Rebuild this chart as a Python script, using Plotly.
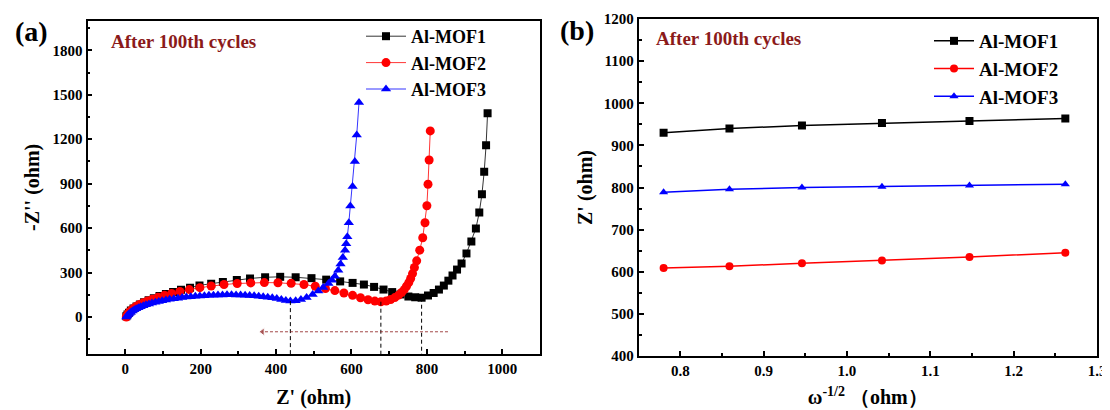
import plotly.graph_objects as go

# ---------------- Panel (a): Nyquist data ----------------
mof1_x = [3, 6, 10, 15, 22, 30, 39, 50, 62, 76, 91, 108, 127, 148, 172, 197, 228, 259, 296, 331,
          371, 411, 452, 494, 533, 570, 603, 633, 660, 685, 708, 730, 751, 769, 786, 803, 818, 832, 845, 857,
          868, 880, 892, 905, 918, 930, 939, 946, 952, 957, 961]
mof1_y = [4, 16, 29, 43, 57, 71, 85, 99, 113, 127, 141, 155, 169, 183, 198, 213, 225, 236, 250, 260,
          268, 271, 268, 262, 252, 240, 230, 219, 203, 185, 168, 152, 138, 133, 130, 145, 162, 185, 212, 245,
          280, 320, 361, 429, 510, 598, 706, 828, 981, 1159, 1376]

mof2_x = [3, 5, 8, 12, 17, 23, 30, 38, 48, 59, 72, 87, 104, 123, 145, 170, 198, 228, 262, 297,
          333, 369, 405, 440, 474, 504, 531, 556, 580, 603, 624, 644, 662, 678, 692, 704, 715, 725, 733, 740,
          746, 752, 757, 762, 767, 773, 781, 789, 795, 800, 803, 806, 809]
mof2_y = [0, 12, 24, 36, 48, 60, 72, 84, 96, 108, 120, 133, 146, 159, 172, 185, 198, 209, 219, 226,
          230, 232, 231, 227, 219, 207, 192, 178, 162, 146, 130, 116, 107, 103, 108, 118, 131, 147, 165, 185,
          207, 232, 260, 293, 334, 379, 451, 535, 636, 751, 896, 1060, 1256]

mof3_x = [3, 5, 8, 11, 15, 19, 24, 29, 35, 41, 48, 55, 63, 71, 80, 89, 98, 108, 118, 129,
          140, 151, 162, 174, 186, 198, 210, 222, 234, 246, 258, 270, 282, 294, 306, 318, 330, 342, 354, 366,
          378, 390, 402, 414, 426, 438, 452, 466, 481, 497, 512, 525, 539, 548, 556, 565, 571, 577, 583, 586,
          589, 593, 597, 603, 609, 614, 620]
mof3_y = [0, 8, 16, 24, 32, 40, 48, 55, 62, 69, 76, 82, 88, 94, 100, 105, 110, 115, 119, 123,
          127, 131, 134, 137, 140, 142, 144, 146, 147, 148, 149, 150, 150, 149, 148, 147, 145, 143, 140, 137,
          133, 129, 124, 118, 112, 107, 110, 118, 131, 152, 176, 199, 226, 248, 275, 316, 357, 402, 451, 495,
          541, 636, 749, 880, 1049, 1229, 1448]

# arrow (Rct shift) along Z' axis
arrow_x = [856, 364]
arrow_y = [-100, -100]

# ---------------- Panel (b): Z' vs omega^-1/2 ----------------
b_x = [0.780, 0.859, 0.946, 1.042, 1.147, 1.262]
b_mof1 = [930, 940, 947, 953, 958, 964]
b_mof2 = [609, 613, 620, 627, 635, 645]
b_mof3 = [789, 796, 800, 802, 805, 808]

names = ["Al-MOF1", "Al-MOF2", "Al-MOF3"]
colors = ["#000000", "#FF0000", "#0000FF"]
symbols = ["square", "circle", "triangle-up"]

SERIF = "Liberation Serif"
DARKRED = "#8B1A1A"

fig = go.Figure()

a_data = [(mof1_x, mof1_y), (mof2_x, mof2_y), (mof3_x, mof3_y)]
a_sizes = [8, 9, 9]
for (xs, ys), n, c, s, ms in zip(a_data, names, colors, symbols, a_sizes):
    fig.add_trace(go.Scatter(
        x=xs, y=ys, mode="lines+markers", name=n,
        line=dict(color=c, width=0.8),
        marker=dict(symbol=s, size=ms, color=c),
        xaxis="x", yaxis="y", legend="legend"))

# dashed verticals at the arc minimum of each series (down to the x axis)
y_bottom = -250
for xs, ys in a_data:
    cand = [(y, x) for x, y in zip(xs, ys) if x > 300]
    ymin, xmin = min(cand)
    fig.add_trace(go.Scatter(
        x=[xmin, xmin], y=[ymin, y_bottom], mode="lines",
        line=dict(color="black", width=1, dash="4px,3px"),
        showlegend=False, hoverinfo="skip", xaxis="x", yaxis="y"))

fig.add_trace(go.Scatter(
    x=arrow_x, y=arrow_y, mode="lines+markers",
    line=dict(color=DARKRED, width=0.8, dash="3px,2px"),
    marker=dict(symbol="triangle-left", size=[0, 7], color=DARKRED),
    showlegend=False, hoverinfo="skip", xaxis="x", yaxis="y"))

b_data = [b_mof1, b_mof2, b_mof3]
for ys, n, c, s in zip(b_data, names, colors, symbols):
    fig.add_trace(go.Scatter(
        x=b_x, y=ys, mode="lines+markers", name=n,
        line=dict(color=c, width=1.5),
        marker=dict(symbol=s, size=8, color=c),
        xaxis="x2", yaxis="y2", legend="legend2"))

W, H = 1110, 410
OFF = 8  # page body margin offset of the figure inside the browser window
def px(v):
    return (v - OFF) / W
def py(v):
    return 1 - (v - OFF) / H

tickfont = dict(family=SERIF, size=15, color="black", weight="bold")
titlefont = dict(family=SERIF, size=20, color="black", weight="bold")

axis_common = dict(
    showline=True, linewidth=1.8, linecolor="black", mirror=True,
    ticks="inside", ticklen=5, tickwidth=1.5, tickcolor="black",
    showgrid=False, zeroline=False, tickfont=tickfont, automargin=False,
)

fig.update_layout(
    width=W, height=H,
    margin=dict(l=0, r=0, t=0, b=0),
    paper_bgcolor="white", plot_bgcolor="white",
    font=dict(family=SERIF, color="black"),
    xaxis=dict(domain=[px(87.5), px(540)], range=[-100, 1100], dtick=200, tick0=0,
               minor=dict(dtick=100, ticks="inside", ticklen=3, tickcolor="black"),
               title=dict(text="Z' (ohm)", font=titlefont, standoff=14),
               anchor="y", **axis_common),
    yaxis=dict(domain=[py(354), py(20.7)], range=[-250, 2000], dtick=300, tick0=0,
               minor=dict(dtick=150, ticks="inside", ticklen=3, tickcolor="black"),
               title=dict(text="-Z'' (ohm)", font=titlefont, standoff=8),
               anchor="x", **axis_common),
    xaxis2=dict(domain=[px(638.6), px(1097)], range=[0.75, 1.3], dtick=0.1, tick0=0.8,
                tickformat=".1f",
                minor=dict(dtick=0.05, ticks="inside", ticklen=3, tickcolor="black"),
                title=dict(text="ω<sup>-1/2</sup> （ohm）", font=titlefont, standoff=12),
                anchor="y2", **axis_common),
    yaxis2=dict(domain=[py(356), py(19)], range=[400, 1200], dtick=100,
                minor=dict(dtick=50, ticks="inside", ticklen=3, tickcolor="black"),
                title=dict(text="Z' (ohm)", font=titlefont, standoff=6),
                anchor="x2", **axis_common),
    legend=dict(x=px(361), y=py(18), xanchor="left", yanchor="top",
                bgcolor="rgba(0,0,0,0)", itemwidth=40,
                font=dict(family=SERIF, size=18, color="black", weight="bold"),
                tracegroupgap=0),
    legend2=dict(x=px(929), y=py(22), xanchor="left", yanchor="top",
                 bgcolor="rgba(0,0,0,0)", itemwidth=40,
                 font=dict(family=SERIF, size=19, color="black", weight="bold"),
                 tracegroupgap=0),
    showlegend=True,
    annotations=[
        dict(text="<b>(a)</b>", x=px(31), y=py(31), xref="paper", yref="paper",
             showarrow=False, xanchor="center", yanchor="middle",
             font=dict(family=SERIF, size=28, color="black")),
        dict(text="<b>(b)</b>", x=px(576.5), y=py(30), xref="paper", yref="paper",
             showarrow=False, xanchor="center", yanchor="middle",
             font=dict(family=SERIF, size=28, color="black")),
        dict(text="<b>After 100th cycles</b>", x=px(109), y=py(42), xref="paper", yref="paper",
             showarrow=False, xanchor="left", yanchor="middle",
             font=dict(family=SERIF, size=19, color=DARKRED)),
        dict(text="<b>After 100th cycles</b>", x=px(653.6), y=py(39), xref="paper", yref="paper",
             showarrow=False, xanchor="left", yanchor="middle",
             font=dict(family=SERIF, size=19, color=DARKRED)),
    ],
)

fig.write_html("out.html")
